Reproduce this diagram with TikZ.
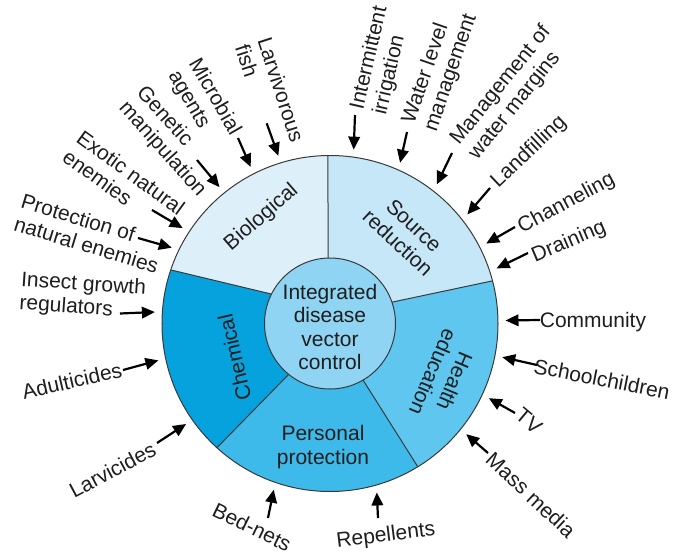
\documentclass[tikz,border=0pt]{standalone}
\usepackage{fontspec}
\setmainfont{Liberation Sans}
\usetikzlibrary{arrows.meta}
\definecolor{cBio}{HTML}{DDF0FA}
\definecolor{cSrc}{HTML}{C5E7F8}
\definecolor{cHea}{HTML}{5EC6EF}
\definecolor{cPer}{HTML}{3DBAEA}
\definecolor{cChe}{HTML}{06A2DD}
\definecolor{cHub}{HTML}{8FD4F2}
\definecolor{cInk}{HTML}{1E1E1E}
\definecolor{cLine}{HTML}{3A3A3A}
\begin{document}
\begin{tikzpicture}[x=1pt,y=1pt,
  lbl/.style={font=\fontsize{21}{23.5}\selectfont, inner sep=0pt, text=cInk},
  arr/.style={draw=black, line width=2.2pt, -{Triangle[length=13pt,width=11.5pt]}, shorten >=7pt},
  seg/.style={draw=cLine, line width=1pt}]
% background and frame (image coordinates)
\begin{scope}[x=1pt,y=-1pt,shift={(-330pt,323.5pt)}]
  \fill[white] (0,0) rectangle (682,555);
  \useasboundingbox (0,0) rectangle (682,555);
\end{scope}
% segments
\fill[cSrc] (14.7:168) arc[start angle=14.7,end angle=90.7,radius=168] -- (91.7:65.5) -- (19:65.5) -- cycle;
\fill[cBio] (90.7:168) arc[start angle=90.7,end angle=161.4,radius=168] -- (153.3:65.5) -- (91.7:65.5) -- cycle;
\fill[cChe] (161.4:168) arc[start angle=161.4,end angle=227.7,radius=168] -- (230.9:65.5) -- (153.3:65.5) -- cycle;
\fill[cPer] (227.7:168) arc[start angle=227.7,end angle=301.5,radius=168] -- (300.3:65.5) -- (230.9:65.5) -- cycle;
\fill[cHea] (301.5:168) arc[start angle=301.5,end angle=374.7,radius=168] -- (379:65.5) -- (300.3:65.5) -- cycle;
\draw[seg] (91.7:65.5) -- (90.7:168);
\draw[seg] (19:65.5) -- (14.7:168);
\draw[seg] (300.3:65.5) -- (301.5:168);
\draw[seg] (230.9:65.5) -- (227.7:168);
\draw[seg] (153.3:65.5) -- (161.4:168);
\node[circle, seg, minimum size=336pt, inner sep=0pt] (outer) at (0,0) {};
\node[circle, seg, fill=cHub, minimum size=131pt, inner sep=0pt] (hub) at (0,0) {};

\begin{scope}[x=1pt,y=-1pt,shift={(-330pt,323.5pt)}]
  % segment texts
  \node[lbl, align=center] (hubtext) at (330,327) {Integrated\\disease\\vector\\control};
  \node[lbl, rotate=41] (bio) at (261.5,217.5) {Biological};
  \node[lbl, rotate=-43, align=center] (src) at (406,234) {Source\\reduction};
  \node[lbl, rotate=-113, align=center] (hea) at (444,377) {Health\\education};
  \node[lbl, rotate=103] (che) at (234.5,357.5) {Chemical};
  \node[lbl, align=center] (per) at (323,447) {Personal\\protection};
  % outer labels
  \node[lbl, rotate=-72, align=left] (n1) at (270,93.6) {Larvivorous\\fish};
  \node[lbl, rotate=-60, align=left] (n2) at (204,103) {Microbial\\agents};
  \node[lbl, rotate=-48, align=left] (n3) at (171,141.7) {Genetic\\manipulation};
  \node[lbl, rotate=-36, align=left] (n4) at (124,182) {Exotic natural\\enemies};
  \node[lbl, rotate=-17, align=left] (n5) at (90,233.5) {Protection of\\natural enemies};
  \node[lbl, rotate=-4, align=left] (n6) at (82.7,296.7) {Insect growth\\regulators};
  \node[lbl, rotate=13] (n7) at (72,381) {Adulticides};
  \node[lbl, rotate=28] (n8) at (112.5,470) {Larvicides};
  \node[lbl, rotate=-26] (n9) at (252,527) {Bed-nets};
  \node[lbl, rotate=7] (n10) at (386,536) {Repellents};
  \node[lbl, rotate=-43] (n11) at (531,495) {Mass media};
  \node[lbl, rotate=-40] (n12) at (529,421) {TV};
  \node[lbl, rotate=-11] (n13) at (602,379) {Schoolchildren};
  \node[lbl] (n14) at (593,322) {Community};
  \node[lbl, rotate=23] (n15) at (569,242) {Draining};
  \node[lbl, rotate=28] (n16) at (566.5,203.5) {Channeling};
  \node[lbl, rotate=43.5] (n17) at (529,152) {Landfilling};
  \node[lbl, rotate=51, align=left] (n18) at (510,93) {Management of\\water margins};
  \node[lbl, rotate=71, align=left] (n19) at (440,69) {Water level\\management};
  \node[lbl, rotate=77, align=left] (n20) at (381,60.6) {Intermittent\\irrigation};
  % arrow starts
  \coordinate (s1) at (266.7,123.3);
  \coordinate (s2) at (238,138);
  \coordinate (s3) at (197,160);
  \coordinate (s4) at (152,210);
  \coordinate (s5) at (138,238);
  \coordinate (s6) at (120,313.5);
  \coordinate (s7) at (123,370);
  \coordinate (s8) at (157,443);
  \coordinate (s9) at (268,518);
  \coordinate (s10) at (378,518);
  \coordinate (s11) at (488,453);
  \coordinate (s12) at (515,413);
  \coordinate (s13) at (537,365);
  \coordinate (s14) at (540,320);
  \coordinate (s15) at (528,253);
  \coordinate (s16) at (515,227);
  \coordinate (s17) at (490,188);
  \coordinate (s18) at (452,153);
  \coordinate (s19) at (407,132);
  \coordinate (s20) at (355,115);
\end{scope}
\draw[arr] (s1) -- (outer.107.1);
\draw[arr] (s2) -- (outer.117.3);
\draw[arr] (s3) -- (outer.129.4);
\draw[arr] (s4) -- (outer.147.1);
\draw[arr] (s5) -- (outer.154.9);
\draw[arr] (s6) -- (outer.176.8);
\draw[arr] (s7) -- (outer.192.5);
\draw[arr] (s8) -- (outer.215.7);
\draw[arr] (s9) -- (outer.251.5);
\draw[arr] (s10) -- (outer.286.1);
\draw[arr] (s11) -- (outer.-39.4);
\draw[arr] (s12) -- (outer.-25);
\draw[arr] (s13) -- (outer.-11.2);
\draw[arr] (s14) -- (outer.1.2);
\draw[arr] (s15) -- (outer.18.5);
\draw[arr] (s16) -- (outer.27.4);
\draw[arr] (s17) -- (outer.38.8);
\draw[arr] (s18) -- (outer.52.5);
\draw[arr] (s19) -- (outer.66.7);
\draw[arr] (s20) -- (outer.82.3);
\end{tikzpicture}
\end{document}
